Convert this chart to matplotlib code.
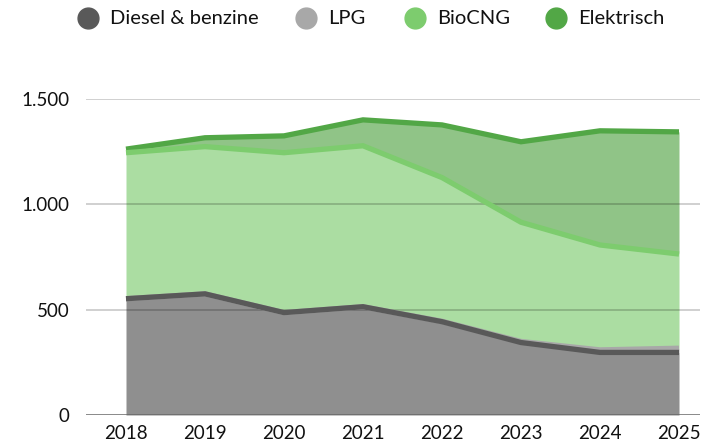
import matplotlib
matplotlib.use("Agg")
import matplotlib.pyplot as plt
import numpy as np
from matplotlib.lines import Line2D

years = [2018, 2019, 2020, 2021, 2022, 2023, 2024, 2025]
diesel = [552, 575, 486, 514, 443, 344, 297, 297]
lpg = [0, 0, 0, 0, 2, 5, 12, 20]
biocng = [693, 699, 759, 764, 682, 566, 498, 447]
elektrisch = [17, 42, 80, 123, 250, 382, 542, 580]
series_names = ["Diesel & benzine", "LPG", "BioCNG", "Elektrisch"]
y_ticks = [0, 500, 1000, 1500]
y_tick_labels = ["0", "500", "1.000", "1.500"]

plt.rcParams['font.family'] = ['Lato', 'DejaVu Sans']

fill_colors = ["#8f8f8f", "#b5b5b5", "#abdda2", "#90c487"]
line_colors = ["#595959", "#a8a8a8", "#7dcc6e", "#52a746"]

W, H = 718, 445
fig = plt.figure(figsize=(W/100, H/100), dpi=100)
ax = fig.add_axes([86/W, 30/H, (700-86)/W, 316/H])

x = np.array(years)
data = np.array([diesel, lpg, biocng, elektrisch], dtype=float)
cum = np.cumsum(data, axis=0)
bottom = np.zeros(len(years))
for i in range(4):
    ax.fill_between(x, bottom, cum[i], color=fill_colors[i], lw=0, zorder=1)
    bottom = cum[i]

for yt in y_ticks[1:]:
    ax.axhline(yt, color=(0, 0, 0, 0.2), lw=1.3, zorder=2)
ax.axhline(0, color="#666666", lw=1.8, zorder=4)

for i in [3, 2, 1, 0]:
    ax.plot(x, cum[i], color=line_colors[i], lw=3.8, zorder=3,
            solid_joinstyle='miter', solid_capstyle='butt')

ax.set_xlim(2018 - 40/79, 2025 + 21/79)
ax.set_ylim(0, 1500)
ax.set_yticks(y_ticks)
ax.set_yticklabels(y_tick_labels)
ax.set_xticks(years)
ax.set_xticklabels([str(y) for y in years])
ax.tick_params(axis='both', length=0, labelsize=13.5, colors="#111111")
ax.tick_params(axis='y', pad=12)
ax.tick_params(axis='x', pad=7)
for s in ax.spines.values():
    s.set_visible(False)

# legend, laid out like the reference
circle_x = [88, 306, 415, 556]
legend_y = 18
for cx, name, col in zip(circle_x, series_names, line_colors):
    fig.add_artist(Line2D([cx/W], [1 - legend_y/H], transform=fig.transFigure,
                          marker='o', ls='', markersize=15,
                          markerfacecolor=col, markeredgecolor=col))
    fig.text((cx + 22)/W, 1 - legend_y/H, name, fontsize=14.5, color="#111111",
             ha='left', va='center')

fig.savefig("out.png", dpi=100)
